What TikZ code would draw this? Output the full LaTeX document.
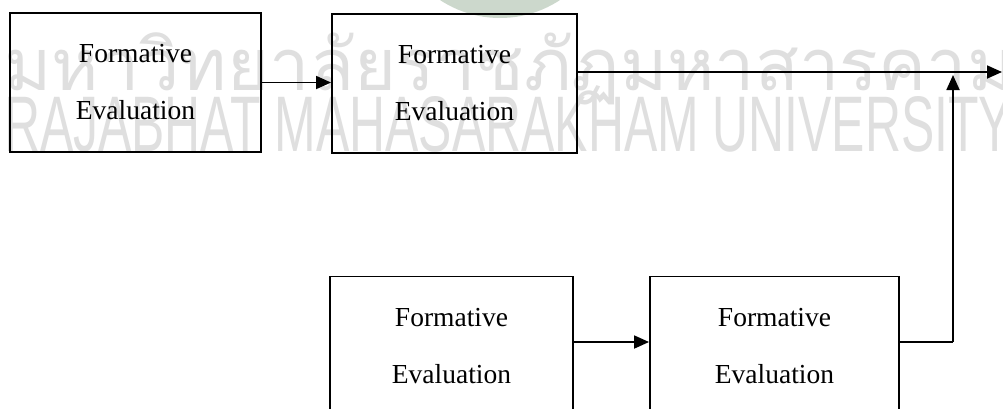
\documentclass[tikz,border=0pt]{standalone}
\usepackage{fontspec}
\usepackage{graphicx}
\setmainfont{Liberation Serif}
\setsansfont{Liberation Sans}
\newfontfamily\thaifont[Script=Thai]{Loma}
\usetikzlibrary{arrows.meta}
\definecolor{wmark}{gray}{0.875}
\definecolor{logogreen}{RGB}{204,216,204}
\tikzset{
  evalbox/.style={draw=black, line width=1.9pt, fill=none, align=center,
    inner sep=0pt, minimum height=139pt,
    font=\fontsize{27.5}{57}\selectfont},
  flow/.style={draw=black, line width=1.8pt, -{Triangle[length=15pt,width=13pt]}},
  link/.style={draw=black, line width=1.8pt},
  wmtext/.style={inner sep=0pt, text=wmark}
}
\begin{document}
\begin{tikzpicture}[x=1pt, y=-1pt]
\useasboundingbox (0,0) rectangle (1003,408);
\clip (0,0) rectangle (1003,408);
\fill[white] (0,0) rectangle (1003,408);
% watermark
\fill[logogreen] (500,-91) circle[radius=109];
\node[wmtext, anchor=base west] (wmthai) at (4,90)
  {\resizebox{1010pt}{!}{\thaifont มหาวิทยาลัยราชภัฏมหาสารคาม}};
\node[wmtext, anchor=base west] (wmlatin) at (4,151)
  {\resizebox{1008pt}{55pt}{\sffamily RAJABHAT MAHASARAKHAM UNIVERSITY}};
% boxes
\node[evalbox, minimum width=251pt] (b1) at (135.5,82.5) {Formative\\Evaluation};
\node[evalbox, minimum width=245pt] (b2) at (454.5,83.5) {Formative\\Evaluation};
\node[evalbox, minimum width=243pt] (b3) at (451.5,346) {Formative\\Evaluation};
\node[evalbox, minimum width=249pt] (b4) at (774.5,346) {Formative\\Evaluation};
% connectors
\coordinate (out) at (1002,72);
\coordinate (up) at (953,75);
\coordinate (turn) at (953,342);
\draw[flow] (b1.east) -- (b1.east -| b2.west);
\draw[flow] (b2.east |- out) -- (out);
\draw[flow] (b3.east |- turn) -- (b4.west |- turn);
\draw[link] (b4.east |- turn) -- (turn);
\draw[flow] (turn) -- (up);
\end{tikzpicture}
\end{document}
